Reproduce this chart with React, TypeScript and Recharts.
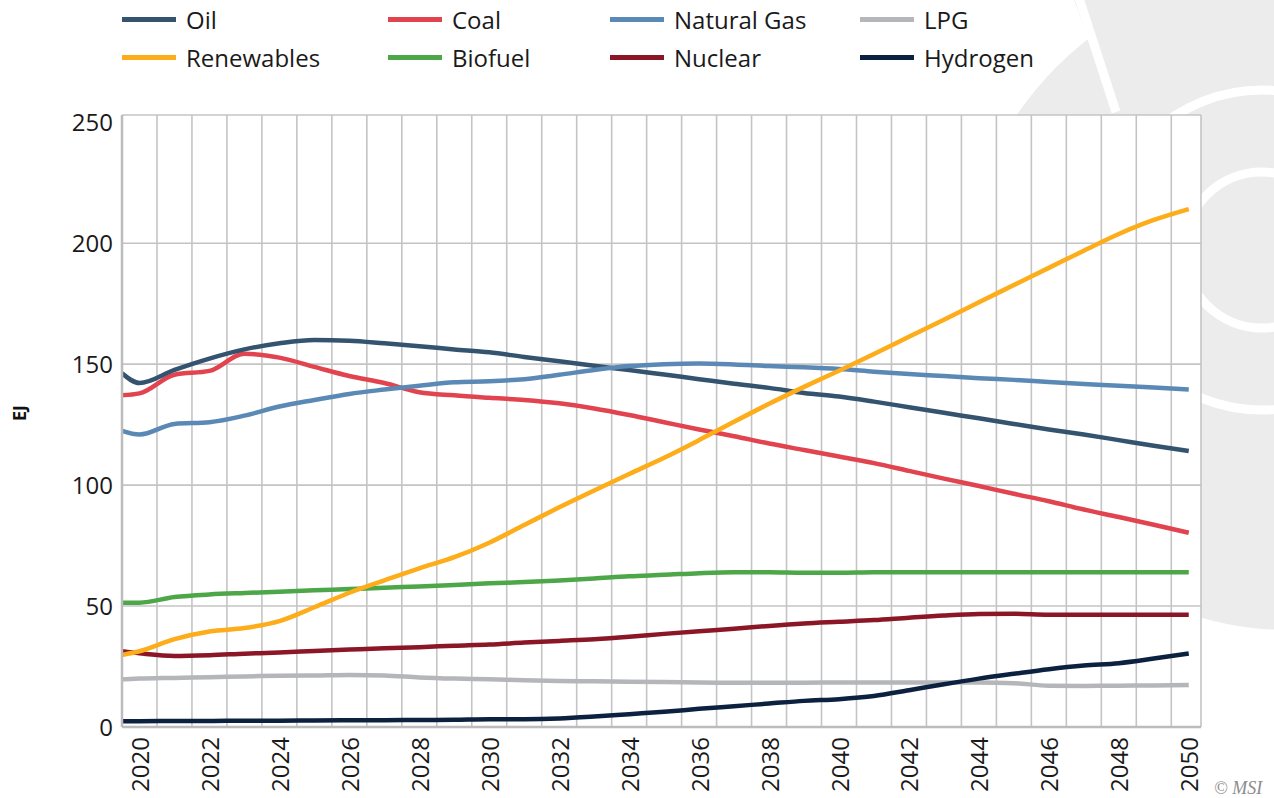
import React from 'react';
import { LineChart, Line, XAxis, YAxis, CartesianGrid, Label } from 'recharts';

const years = [
  2019.5, 2020, 2021, 2022, 2023, 2024, 2025, 2026, 2027, 2028, 2029,
  2030, 2031, 2032, 2033, 2034, 2035, 2036, 2037, 2038, 2039,
  2040, 2041, 2042, 2043, 2044, 2045, 2046, 2047, 2048, 2049, 2050,
];

const oil = [
  146.2, 142.2, 147.6, 152.3, 156.1, 158.6, 160, 159.7, 158.6, 157.4, 156.1,
  154.9, 153, 151.2, 149.3, 147.6, 145.7, 143.8, 141.9, 140.2, 138.1,
  136.6, 134.5, 132.2, 129.9, 127.6, 125.3, 123, 120.9, 118.6, 116.3, 114.1,
];
const coal = [
  137.1, 137.9, 145.6, 147.2, 154.3, 152.7, 148.9, 145.1, 142.2, 138.4, 137.1,
  136.1, 135.2, 133.8, 131.7, 129, 126, 123, 120.2, 117.2, 114.5,
  111.8, 109.1, 105.9, 102.7, 99.6, 96.4, 93.3, 89.9, 86.8, 83.6, 80.3,
];
const naturalGas = [
  122.4, 120.9, 125.3, 126, 128.7, 132.5, 135.2, 137.7, 139.5, 141.1, 142.5,
  142.9, 143.8, 145.6, 147.6, 149.2, 150, 150.3, 149.9, 149.2, 148.7,
  148, 146.9, 145.9, 145.1, 144.2, 143.5, 142.6, 141.8, 141.1, 140.3, 139.5,
];
const lpg = [
  19.7, 20, 20.3, 20.6, 20.9, 21.2, 21.3, 21.5, 21.3, 20.5, 20,
  19.7, 19.3, 19, 18.9, 18.7, 18.6, 18.4, 18.3, 18.3, 18.3,
  18.4, 18.4, 18.4, 18.4, 18.4, 18.1, 17.1, 17, 17.1, 17.2, 17.4,
];
const renewables = [
  29.8, 31.3, 36.3, 39.5, 40.9, 43.8, 49.5, 55.5, 60.6, 65.6, 70.2,
  76.2, 83.5, 90.8, 97.8, 104.6, 111.3, 118.6, 126.2, 133.6, 140.6,
  147.3, 154.2, 161.3, 168.4, 175.6, 182.7, 189.8, 196.9, 203.8, 209.6, 214.1,
];
const biofuel = [
  51.4, 51.4, 53.7, 54.8, 55.4, 55.9, 56.5, 57, 57.6, 58.1, 58.7,
  59.4, 59.9, 60.6, 61.4, 62.3, 62.9, 63.6, 64, 64, 63.8,
  63.8, 64, 64, 64, 64, 64, 64, 64, 64, 64, 64,
];
const nuclear = [
  31.3, 30.5, 29.4, 29.7, 30.3, 30.8, 31.4, 32, 32.6, 33, 33.6,
  34.1, 34.9, 35.6, 36.3, 37.3, 38.5, 39.6, 40.6, 41.8, 42.8,
  43.5, 44.2, 45.2, 46.1, 46.7, 46.8, 46.4, 46.4, 46.4, 46.4, 46.4,
];
const hydrogen = [
  2.4, 2.4, 2.5, 2.5, 2.6, 2.6, 2.7, 2.8, 2.8, 2.9, 3,
  3.2, 3.2, 3.5, 4.3, 5.3, 6.3, 7.5, 8.6, 9.7, 10.8,
  11.5, 12.8, 15.2, 17.7, 20, 22, 23.9, 25.4, 26.4, 28.3, 30.4,
];

const xTicks = [2020, 2022, 2024, 2026, 2028, 2030, 2032, 2034, 2036, 2038, 2040, 2042, 2044, 2046, 2048, 2050];
const yTicks = [0, 50, 100, 150, 200, 250];

const X_MIN = 2019.5;
const X_MAX = 2050.35;
const Y_MAX = 253;

// legend order (row by row) and draw order are different
const series = [
  { key: 'oil', name: 'Oil', color: '#34536f', values: oil, col: 0, row: 0 },
  { key: 'coal', name: 'Coal', color: '#e1444f', values: coal, col: 1, row: 0 },
  { key: 'gas', name: 'Natural Gas', color: '#5b89b6', values: naturalGas, col: 2, row: 0 },
  { key: 'lpg', name: 'LPG', color: '#b4b6b9', values: lpg, col: 3, row: 0 },
  { key: 'renewables', name: 'Renewables', color: '#fdac1a', values: renewables, col: 0, row: 1 },
  { key: 'biofuel', name: 'Biofuel', color: '#4da647', values: biofuel, col: 1, row: 1 },
  { key: 'nuclear', name: 'Nuclear', color: '#8b1625', values: nuclear, col: 2, row: 1 },
  { key: 'hydrogen', name: 'Hydrogen', color: '#0c213f', values: hydrogen, col: 3, row: 1 },
];
const drawOrder = ['coal', 'oil', 'gas', 'lpg', 'biofuel', 'nuclear', 'hydrogen', 'renewables'];

const data = years.map((year, i) => {
  const row: Record<string, number> = { year };
  series.forEach(s => { row[s.key] = s.values[i]; });
  return row;
});

const gridYears = [...Array.from({ length: 30 }, (_, i) => 2020.5 + i), X_MAX];

const FONT = '"Open Sans", "DejaVu Sans", sans-serif';
const legendCols = [122, 388, 610, 860];
const legendRows = [19, 57];

const YearTick = (props: any) => {
  const { x, y, payload } = props;
  return (
    <text
      x={x}
      y={y}
      transform={`rotate(-90, ${x}, ${y})`}
      textAnchor="end"
      dominantBaseline="central"
      fontSize={24}
      fontFamily={FONT}
      fill="#1a1a1a"
    >
      {payload.value}
    </text>
  );
};

const Watermark = () => (
  <svg width={1274} height={798} style={{ position: 'absolute', left: 0, top: 0 }}>
    <circle cx={1290} cy={300} r={330} fill="#ececec" />
    <polygon points="1074,0 1274,0 1274,120 1111,100" fill="#ececec" />
    <line x1={1078} y1={-5} x2={1116} y2={112} stroke="#fff" strokeWidth={9} />
    <circle cx={1262} cy={250} r={160} fill="none" stroke="#fff" strokeWidth={9} />
    <circle cx={1262} cy={250} r={78} fill="none" stroke="#fff" strokeWidth={9} />
  </svg>
);

const App: React.FC = () => {
  return (
    <div style={{ position: 'absolute', left: 0, top: 0, width: 1274, height: 798, background: '#fff', overflow: 'hidden' }}>
      <Watermark />

      {series.map(s => (
        <div
          key={s.key}
          style={{
            position: 'absolute',
            left: legendCols[s.col],
            top: legendRows[s.row] - 17,
            height: 34,
            display: 'flex',
            alignItems: 'center',
            fontFamily: FONT,
            fontSize: 24,
            color: '#1a1a1a',
            whiteSpace: 'nowrap',
          }}
        >
          <span style={{ display: 'inline-block', width: 54, height: 5, background: s.color, marginRight: 10 }} />
          {s.name}
        </div>
      ))}

      <div style={{ position: 'absolute', left: 0, top: 0 }}>
        <LineChart width={1274} height={798} data={data} margin={{ top: 115, right: 73, bottom: 0, left: 0 }}>
          <CartesianGrid
            fill="#fff"
            stroke="#c4c4c4"
            strokeWidth={1.6}
            verticalValues={gridYears}
            horizontalValues={[50, 100, 150, 200, Y_MAX]}
          />
          <XAxis
            dataKey="year"
            type="number"
            domain={[X_MIN, X_MAX]}
            ticks={xTicks}
            interval={0}
            allowDataOverflow
            height={71}
            tickSize={0}
            tickMargin={10}
            tickLine={false}
            axisLine={{ stroke: '#bcbcbc', strokeWidth: 2.5 }}
            tick={<YearTick />}
          />
          <YAxis
            type="number"
            domain={[0, Y_MAX]}
            ticks={yTicks}
            interval={0}
            allowDataOverflow
            width={122}
            tickSize={0}
            tickMargin={9}
            tickLine={false}
            axisLine={{ stroke: '#bcbcbc', strokeWidth: 2.5 }}
            tick={{ fontSize: 24, fontFamily: FONT, fill: '#1a1a1a' }}
          >
            <Label
              value="EJ"
              position="insideLeft"
              angle={-90}
              offset={20}
              style={{ fontSize: 18, fontWeight: 700, fontFamily: FONT, fill: '#111' }}
            />
          </YAxis>
          {drawOrder.map(k => {
            const s = series.find(x => x.key === k)!;
            return (
              <Line
                key={s.key}
                type="monotone"
                dataKey={s.key}
                name={s.name}
                stroke={s.color}
                strokeWidth={4.5}
                dot={false}
                activeDot={false}
                isAnimationActive={false}
              />
            );
          })}
        </LineChart>
      </div>

      <div
        style={{
          position: 'absolute',
          left: 1214,
          top: 778,
          fontFamily: '"Liberation Serif", "DejaVu Serif", serif',
          fontStyle: 'italic',
          fontSize: 18,
          color: '#8c8c8c',
        }}
      >
        © MSI
      </div>
    </div>
  );
};

export default App;
